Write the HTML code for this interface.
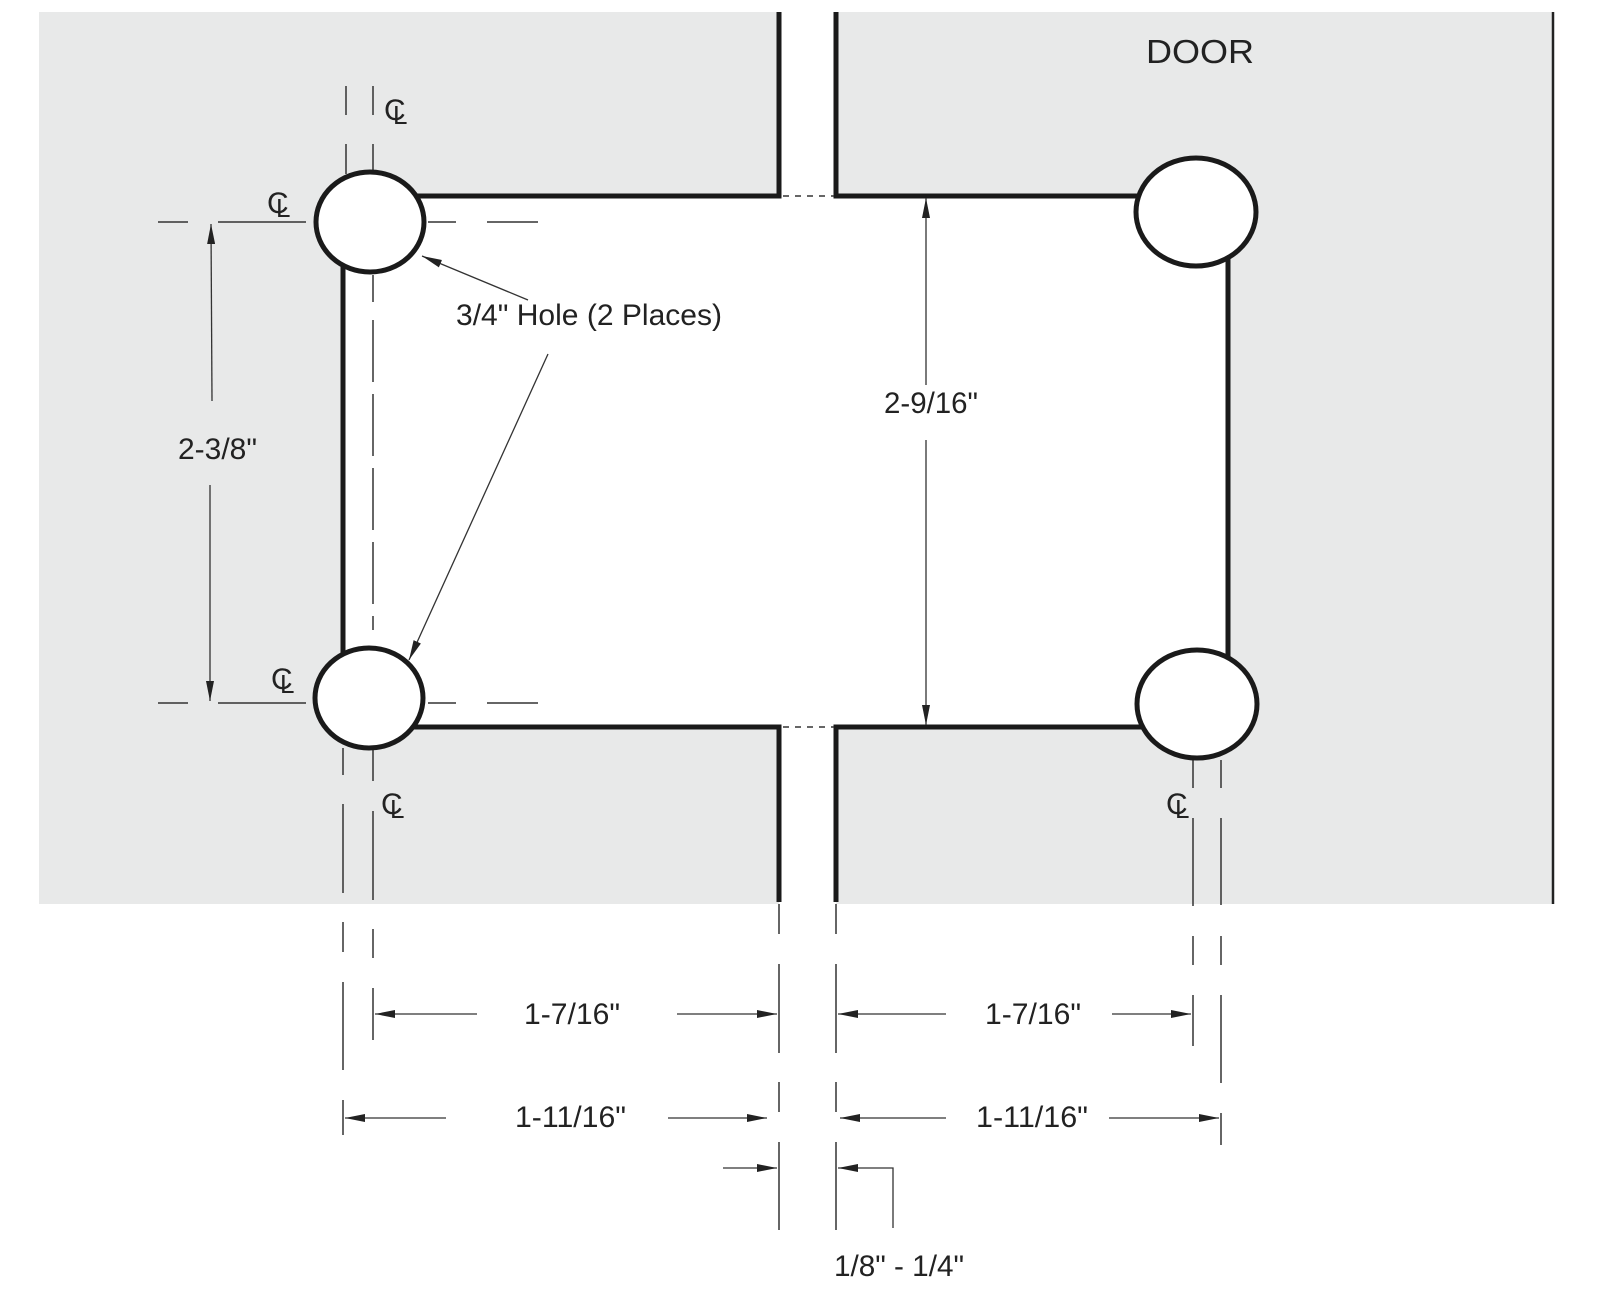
<!DOCTYPE html>
<html><head><meta charset="utf-8"><style>
html,body{margin:0;padding:0;background:#fff;}
svg{display:block;}
text{font-family:"Liberation Sans",sans-serif;fill:#222;}
</style></head><body>
<svg width="1600" height="1314" viewBox="0 0 1600 1314" xmlns="http://www.w3.org/2000/svg">
<defs>
<marker id="a" viewBox="0 0 20 8" refX="20" refY="4" markerWidth="20" markerHeight="8" markerUnits="userSpaceOnUse" orient="auto">
<path d="M0,0 L20,4 L0,8 Z" fill="#222"/></marker>
</defs>
<rect x="39" y="12" width="1514" height="892" fill="#e8e9e9"/>
<rect x="779" y="0" width="57" height="906" fill="#fff"/>
<rect x="343" y="196" width="885" height="531" fill="#fff"/>
<line x1="1553" y1="12" x2="1553" y2="904" stroke="#222" stroke-width="2.5"/>
<g stroke="#1a1a1a" stroke-width="5" fill="none">
<polyline points="779,12 779,196 410,196"/>
<polyline points="836,12 836,196 1150,196"/>
<polyline points="779,902 779,727 410,727"/>
<polyline points="836,902 836,727 1150,727"/>
<line x1="343" y1="262" x2="343" y2="655"/>
<line x1="1228" y1="258" x2="1228" y2="660"/>
</g>
<g stroke="#333" stroke-width="1.5" stroke-dasharray="6 6">
<line x1="783" y1="196" x2="834" y2="196"/>
<line x1="783" y1="727" x2="834" y2="727"/>
</g>
<g stroke="#333" stroke-width="1.5" fill="none">
<line x1="346" y1="86" x2="346" y2="115"/><line x1="373" y1="86" x2="373" y2="115"/>
<line x1="346" y1="144" x2="346" y2="174"/><line x1="373" y1="144" x2="373" y2="174"/>
<line x1="373" y1="275" x2="373" y2="302"/>
<line x1="373" y1="320" x2="373" y2="630" stroke-dasharray="62 12"/>
<line x1="158" y1="222" x2="188" y2="222"/><line x1="218" y1="222" x2="306" y2="222"/>
<line x1="428" y1="222" x2="456" y2="222"/><line x1="487" y1="222" x2="538" y2="222"/>
<line x1="158" y1="703" x2="188" y2="703"/><line x1="218" y1="703" x2="306" y2="703"/>
<line x1="428" y1="703" x2="456" y2="703"/><line x1="487" y1="703" x2="538" y2="703"/>
<line x1="343" y1="748" x2="343" y2="775"/><line x1="343" y1="804" x2="343" y2="893"/>
<line x1="343" y1="922" x2="343" y2="952"/><line x1="343" y1="982" x2="343" y2="1070"/>
<line x1="343" y1="1100" x2="343" y2="1135"/>
<line x1="373" y1="750" x2="373" y2="781"/><line x1="373" y1="811" x2="373" y2="900"/>
<line x1="373" y1="929" x2="373" y2="958"/><line x1="373" y1="988" x2="373" y2="1040"/>
<line x1="779" y1="904" x2="779" y2="934"/><line x1="779" y1="964" x2="779" y2="1053"/>
<line x1="779" y1="1082" x2="779" y2="1112"/><line x1="779" y1="1142" x2="779" y2="1230"/>
<line x1="836" y1="904" x2="836" y2="934"/><line x1="836" y1="964" x2="836" y2="1053"/>
<line x1="836" y1="1082" x2="836" y2="1112"/><line x1="836" y1="1142" x2="836" y2="1230"/>
<line x1="1193" y1="760" x2="1193" y2="788"/><line x1="1193" y1="818" x2="1193" y2="906"/>
<line x1="1193" y1="936" x2="1193" y2="965"/><line x1="1193" y1="995" x2="1193" y2="1046"/>
<line x1="1221" y1="760" x2="1221" y2="788"/><line x1="1221" y1="818" x2="1221" y2="905"/>
<line x1="1221" y1="936" x2="1221" y2="965"/><line x1="1221" y1="995" x2="1221" y2="1083"/>
<line x1="1221" y1="1113" x2="1221" y2="1145"/>
</g>
<g stroke="#1a1a1a" stroke-width="5" fill="#fff">
<ellipse cx="370" cy="222" rx="54" ry="50"/>
<ellipse cx="369" cy="698" rx="54" ry="50"/>
<ellipse cx="1196" cy="212" rx="60" ry="54"/>
<ellipse cx="1197" cy="704" rx="60" ry="54"/>
</g>
<g stroke="#333" stroke-width="1.3" fill="none">
<line x1="212" y1="401" x2="211" y2="224" marker-end="url(#a)"/>
<line x1="210" y1="485" x2="210" y2="701" marker-end="url(#a)"/>
<line x1="926" y1="385" x2="926" y2="198" marker-end="url(#a)"/>
<line x1="926" y1="440" x2="926" y2="725" marker-end="url(#a)"/>
<line x1="528" y1="300" x2="422" y2="256" marker-end="url(#a)"/>
<line x1="548" y1="354" x2="409" y2="660" marker-end="url(#a)"/>
<line x1="477" y1="1014" x2="375" y2="1014" marker-end="url(#a)"/>
<line x1="677" y1="1014" x2="777" y2="1014" marker-end="url(#a)"/>
<line x1="946" y1="1014" x2="838" y2="1014" marker-end="url(#a)"/>
<line x1="1112" y1="1014" x2="1191" y2="1014" marker-end="url(#a)"/>
<line x1="446" y1="1118" x2="345" y2="1118" marker-end="url(#a)"/>
<line x1="668" y1="1118" x2="767" y2="1118" marker-end="url(#a)"/>
<line x1="946" y1="1118" x2="840" y2="1118" marker-end="url(#a)"/>
<line x1="1109" y1="1118" x2="1219" y2="1118" marker-end="url(#a)"/>
<line x1="723" y1="1168" x2="777" y2="1168" marker-end="url(#a)"/>
<polyline points="893,1228 893,1168 838,1168" marker-end="url(#a)"/>
</g>
<g font-size="30">
<text x="384" y="120">C</text><text x="393" y="124" font-size="26">L</text>
<text x="267" y="213">C</text><text x="276" y="217" font-size="26">L</text>
<text x="271" y="689">C</text><text x="280" y="693" font-size="26">L</text>
<text x="381" y="814">C</text><text x="390" y="818" font-size="26">L</text>
<text x="1166" y="814">C</text><text x="1175" y="818" font-size="26">L</text>
</g>
<g font-size="30">
<text x="1146" y="63" font-size="33" textLength="108" lengthAdjust="spacingAndGlyphs">DOOR</text>
<text x="456" y="325" textLength="266" lengthAdjust="spacingAndGlyphs">3/4" Hole (2 Places)</text>
<text x="178" y="459" textLength="79" lengthAdjust="spacingAndGlyphs">2-3/8"</text>
<text x="884" y="413" textLength="94" lengthAdjust="spacingAndGlyphs">2-9/16"</text>
<text x="524" y="1024" textLength="96" lengthAdjust="spacingAndGlyphs">1-7/16"</text>
<text x="985" y="1024" textLength="96" lengthAdjust="spacingAndGlyphs">1-7/16"</text>
<text x="515" y="1127" textLength="111" lengthAdjust="spacingAndGlyphs">1-11/16"</text>
<text x="976" y="1127" textLength="112" lengthAdjust="spacingAndGlyphs">1-11/16"</text>
<text x="834" y="1276" textLength="130" lengthAdjust="spacingAndGlyphs">1/8" - 1/4"</text>
</g>
</svg>
</body></html>
